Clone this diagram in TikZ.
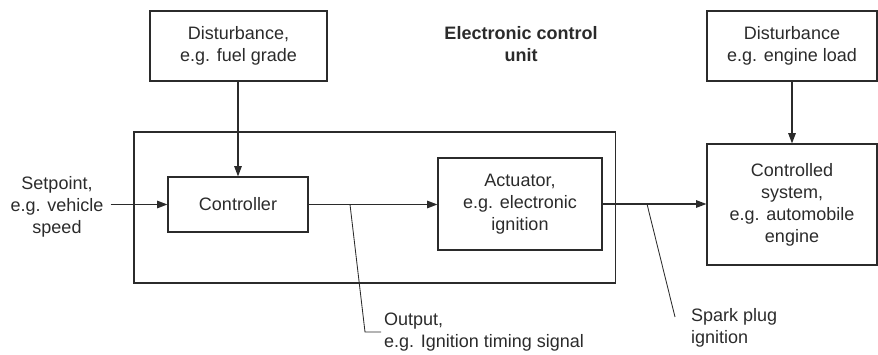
\documentclass[tikz,border=0pt]{standalone}
\usepackage{fontspec}
\setmainfont{Liberation Sans}
\usetikzlibrary{arrows.meta,positioning,calc}
\definecolor{ink}{HTML}{2B2B2B}
\tikzset{blk/.style={draw=ink,line width=0.8pt,align=center,font=\fontsize{12.8}{15.6}\selectfont,text=ink},
  lbl/.style={align=center,font=\fontsize{12.8}{15.6}\selectfont,text=ink},
  arr/.style={-{Triangle[length=2.6mm,width=1.9mm]},line width=0.8pt,draw=ink},
  lead/.style={line width=0.6pt,draw=ink}}

\begin{document}
\begin{tikzpicture}[x=0.025cm,y=0.025cm]
\useasboundingbox (0,0) rectangle (878,354);
% blocks
\node[blk,minimum width=12.025cm,minimum height=3.775cm] (ecu) at (374.5,146.5) {};
\node[blk,minimum width=4.425cm,minimum height=1.75cm] (dist1) at (238.5,308) {Disturbance,\\e.g. fuel grade};
\node[blk,minimum width=3.5cm,minimum height=1.375cm] (ctrl) at (238,149.5) {Controller};
\node[blk,minimum width=4.1cm,minimum height=2.3cm] (act) at (520,150) {Actuator,\\e.g. electronic\\ignition};
\node[blk,minimum width=4.25cm,minimum height=1.75cm] (dist2) at (792,308) {Disturbance\\e.g. engine load};
\node[blk,minimum width=4.25cm,minimum height=3.025cm] (plant) at (792,149.5) {Controlled\\system,\\e.g. automobile\\engine};
% labels
\node[lbl,inner sep=5pt] (sp) at (57,147) {Setpoint,\\e.g. vehicle\\speed};
\node[lbl,font=\fontsize{12.8}{15.6}\selectfont\bfseries] (ecutitle) at (521,310) {Electronic control\\unit};
\node[lbl,align=left,anchor=west,inner sep=2pt] (out) at (381,22) {Output,\\e.g. Ignition timing signal};
\node[lbl,align=left,anchor=west,inner sep=2pt] (spark) at (688,26) {Spark plug\\ignition};
% signals
\draw[arr] (ctrl.west -| sp.east) -- (ctrl.west);
\draw[arr] (dist1.south -| ctrl.north) -- (ctrl.north);
\draw[arr] (ctrl.east) -- (act.west |- ctrl.east);
\draw[arr] (act.east) -- (plant.west |- act.east);
\draw[arr] (dist2.south) -- (plant.north);
% leader lines
\coordinate (tap1) at (350,149.5);
\coordinate (tap2) at (647,150);
\draw[lead] (tap1) -- (365,22) -- (out.west);
\draw[lead] (tap2) -- (675,37);
\end{tikzpicture}
\end{document}
